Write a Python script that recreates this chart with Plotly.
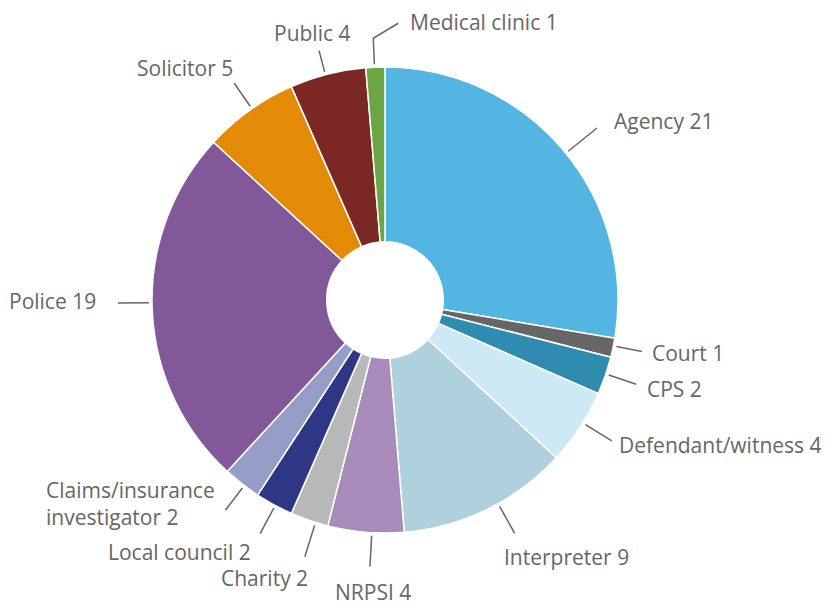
import math
import plotly.graph_objects as go

# ---- data ----
labels = ["Agency", "Court", "CPS", "Defendant/witness", "Interpreter", "NRPSI",
          "Charity", "Local council", "Claims/insurance<br>investigator", "Police",
          "Solicitor", "Public", "Medical clinic"]
values = [21, 1, 2, 4, 9, 4, 2, 2, 2, 19, 5, 4, 1]

# ---- styles ----
colors = ["#52b5e2", "#666666", "#2f8baf", "#cde9f6", "#afd1de", "#a88bba",
          "#b8b8b8", "#2e3685", "#959dc6", "#83589b", "#e38b06", "#7b2724", "#6ca544"]

PAGE_W, PAGE_H = 829, 606
OFF = 8  # default body margin of the html page
W, H = PAGE_W - OFF, PAGE_H - OFF
CX, CY, R = 385, 300, 233  # in page pixels
HOLE = 0.25
TEXT_COLOR = "#666666"
FONT = "Open Sans"
FONT_SIZE = 21

# leader/label layout: angle tweak (deg), leader length beyond rim (px),
# xanchor, yanchor, text offset from leader end (dx, dy), optional elbow
label_layout = [
    (1.2, 40, "left", "middle", 15, -7, None),
    (-0.5, 29, "left", "middle", 8, 1, None),
    (-0.4, 32, "left", "middle", 9, 5, None),
    (-1.3, 34, "left", "middle", 5, 4, None),
    (-3.0, 34, "left", "middle", -13, 24, None),
    (-1.5, 34, "center", "middle", 3, 25, None),
    (-1.6, 36, "right", "middle", 5, 21, None),
    (-0.3, 32, "right", "middle", -7, 18, None),
    (-0.7, 31, "right", "middle", -8, -7, None),
    (1.7, 34, "right", "middle", -20, -2, None),
    (0.7, 31, "right", "middle", 1, -15, None),
    (-0.6, 25, "center", "middle", -7, -18, None),
    (-0.2, 29, "left", "middle", 10, -1, (25, -15)),
]


def px(x):
    return (x - OFF) / W


def py(y):
    return 1 - (y - OFF) / H


fig = go.Figure()
fig.add_trace(go.Pie(
    labels=labels, values=values, hole=HOLE, sort=False, direction="clockwise",
    rotation=0, textinfo="none", hoverinfo="label+value",
    marker=dict(colors=colors, line=dict(color="white", width=1.5)),
    domain=dict(x=[px(CX - R), px(CX + R)], y=[py(CY + R), py(CY - R)]),
    showlegend=False,
))

total = sum(values)
cum = 0
shapes = []
annotations = []
for lab, val, lay in zip(labels, values, label_layout):
    da, L, xa, ya, dx, dy, elbow = lay
    mid = (cum + val / 2) / total * 2 * math.pi + math.radians(da)
    cum += val
    s, c = math.sin(mid), math.cos(mid)
    x0, y0 = CX + (R + 3) * s, CY - (R + 3) * c
    x1, y1 = CX + (R + L) * s, CY - (R + L) * c
    if elbow:
        x2, y2 = x1 + elbow[0], y1 + elbow[1]
        path = f"M {px(x0)},{py(y0)} L {px(x1)},{py(y1)} L {px(x2)},{py(y2)}"
        shapes.append(dict(type="path", path=path, xref="paper", yref="paper",
                           line=dict(color=TEXT_COLOR, width=1.5)))
        ex, ey = x2, y2
    else:
        shapes.append(dict(type="line", xref="paper", yref="paper",
                           x0=px(x0), y0=py(y0), x1=px(x1), y1=py(y1),
                           line=dict(color=TEXT_COLOR, width=1.5)))
        ex, ey = x1, y1
    annotations.append(dict(
        text=f"{lab} {val}", x=px(ex + dx), y=py(ey + dy), xref="paper", yref="paper",
        xanchor=xa, yanchor=ya, align="left", showarrow=False,
        font=dict(family=FONT, size=FONT_SIZE, color=TEXT_COLOR),
    ))

fig.update_layout(
    width=W, height=H, margin=dict(l=0, r=0, t=0, b=0),
    paper_bgcolor="white", plot_bgcolor="white",
    shapes=shapes, annotations=annotations,
)

fig.write_html("out.html")
